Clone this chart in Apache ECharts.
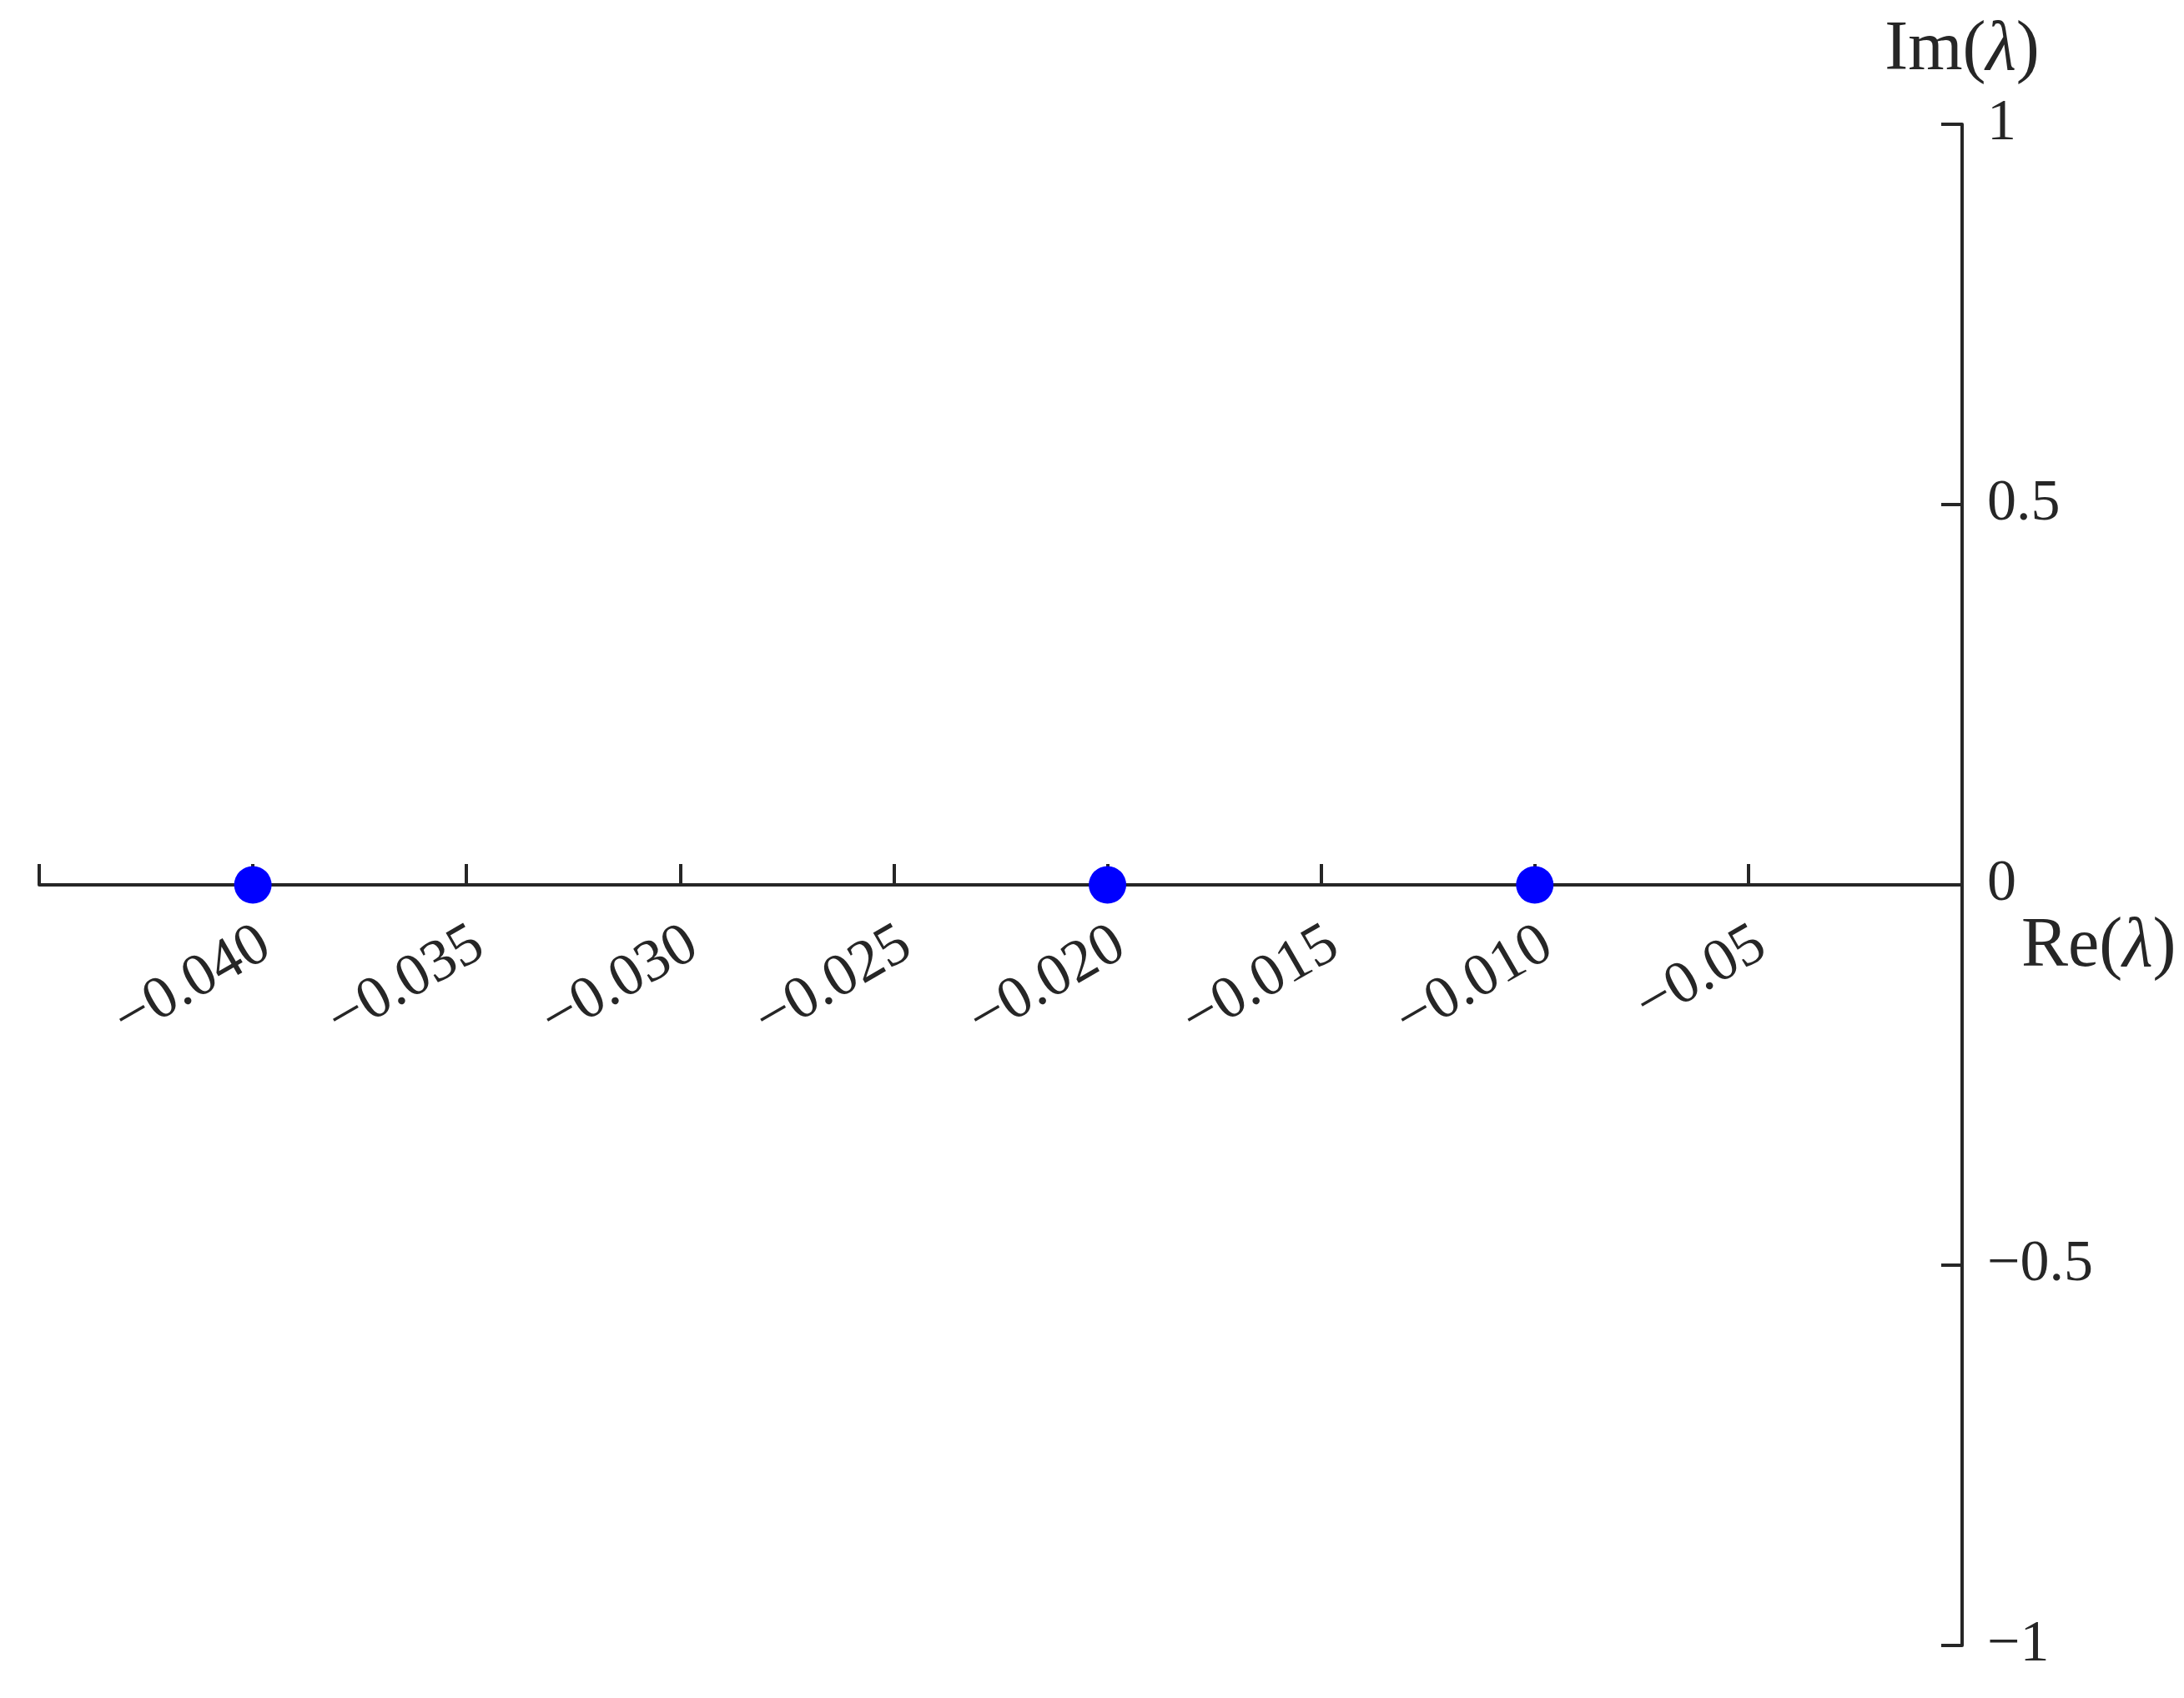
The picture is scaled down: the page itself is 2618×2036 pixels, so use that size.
<!DOCTYPE html>
<html>
<head>
<meta charset="utf-8">
<script src="https://cdn.jsdelivr.net/npm/echarts@6/dist/echarts.min.js"></script>
<style>
  html, body { margin: 0; padding: 0; background: #fff; }
  #chart { width: 2618px; height: 2036px; }
</style>
</head>
<body>
<div id="chart"></div>
<script>
// eigenvalues (real part, imaginary part)
var reValues = [-0.040, -0.020, -0.010]
var imValues = [0, 0, 0]

// x tick labels as printed in the figure (no label at -0.045 and 0)
var xTickValues = [-0.040, -0.035, -0.030, -0.025, -0.020, -0.015, -0.010, -0.005]
var xTickLabels = ['−0.040', '−0.035', '−0.030', '−0.025', '−0.020', '−0.015', '−0.010', '−0.05']
var yTickValues = [1, 0.5, 0, -0.5, -1]
var yTickLabels = ['1', '0.5', '0', '−0.5', '−1']

var axisColor = '#262626'
var font = '"Liberation Serif", "DejaVu Serif", serif'

// grid box; the x axis sits at Im = 0, i.e. half way up the plot area
var gridTop = 149
var gridBottom = 63
var plotHeight = 2036 - gridTop - gridBottom

function labelFor(values, labels, v) {
  for (var i = 0; i < values.length; i++) {
    if (Math.abs(values[i] - v) < 1e-9) return labels[i]
  }
  return ''
}

var points = []
for (var i = 0; i < reValues.length; i++) {
  points.push([reValues[i], imValues[i]])
}

var nameRich = {
  r: { fontFamily: font, fontSize: 84, color: axisColor },
  i: { fontFamily: font, fontSize: 84, fontStyle: 'italic', color: axisColor }
}

var myChart = echarts.init(document.getElementById('chart'))
myChart.setOption({
  backgroundColor: '#fff',
  animation: false,
  grid: {
    left: 47,
    right: 266,
    top: gridTop,
    bottom: gridBottom,
    containLabel: false,
    outerBoundsMode: 'none'
  },
  xAxis: {
    type: 'value',
    min: -0.045,
    max: 0,
    interval: 0.005,
    offset: -plotHeight / 2,
    name: '{r|Re(}{i|λ}{r|)}',
    nameLocation: 'end',
    nameGap: 58,
    nameTextStyle: {
      align: 'left',
      verticalAlign: 'middle',
      padding: [150, 0, 0, 0],
      rich: nameRich
    },
    axisLine: {
      onZero: false,
      lineStyle: { color: axisColor, width: 4 }
    },
    axisTick: {
      show: true,
      inside: true,
      length: 25,
      lineStyle: { color: axisColor, width: 4 }
    },
    axisLabel: {
      rotate: 30,
      margin: 76,
      padding: [0, -18, 0, 0],
      fontFamily: font,
      fontSize: 72,
      color: axisColor,
      showMinLabel: true,
      showMaxLabel: true,
      formatter: function (v) {
        return labelFor(xTickValues, xTickLabels, v)
      }
    },
    splitLine: { show: false }
  },
  yAxis: {
    type: 'value',
    position: 'right',
    min: -1,
    max: 1,
    interval: 0.5,
    name: '{r|Im(}{i|λ}{r|)}',
    nameLocation: 'end',
    nameGap: 46,
    nameTextStyle: {
      align: 'center',
      verticalAlign: 'bottom',
      rich: nameRich
    },
    axisLine: {
      show: true,
      onZero: false,
      lineStyle: { color: axisColor, width: 4 }
    },
    axisTick: {
      show: true,
      inside: true,
      length: 25,
      lineStyle: { color: axisColor, width: 4 }
    },
    axisLabel: {
      inside: false,
      margin: 30,
      fontFamily: font,
      fontSize: 70,
      color: axisColor,
      formatter: function (v) {
        return labelFor(yTickValues, yTickLabels, v)
      }
    },
    splitLine: { show: false }
  },
  series: [
    {
      type: 'scatter',
      data: points,
      symbol: 'circle',
      symbolSize: 45,
      itemStyle: { color: '#0000ff', opacity: 1 },
      z: 5
    }
  ]
})
</script>
</body>
</html>
